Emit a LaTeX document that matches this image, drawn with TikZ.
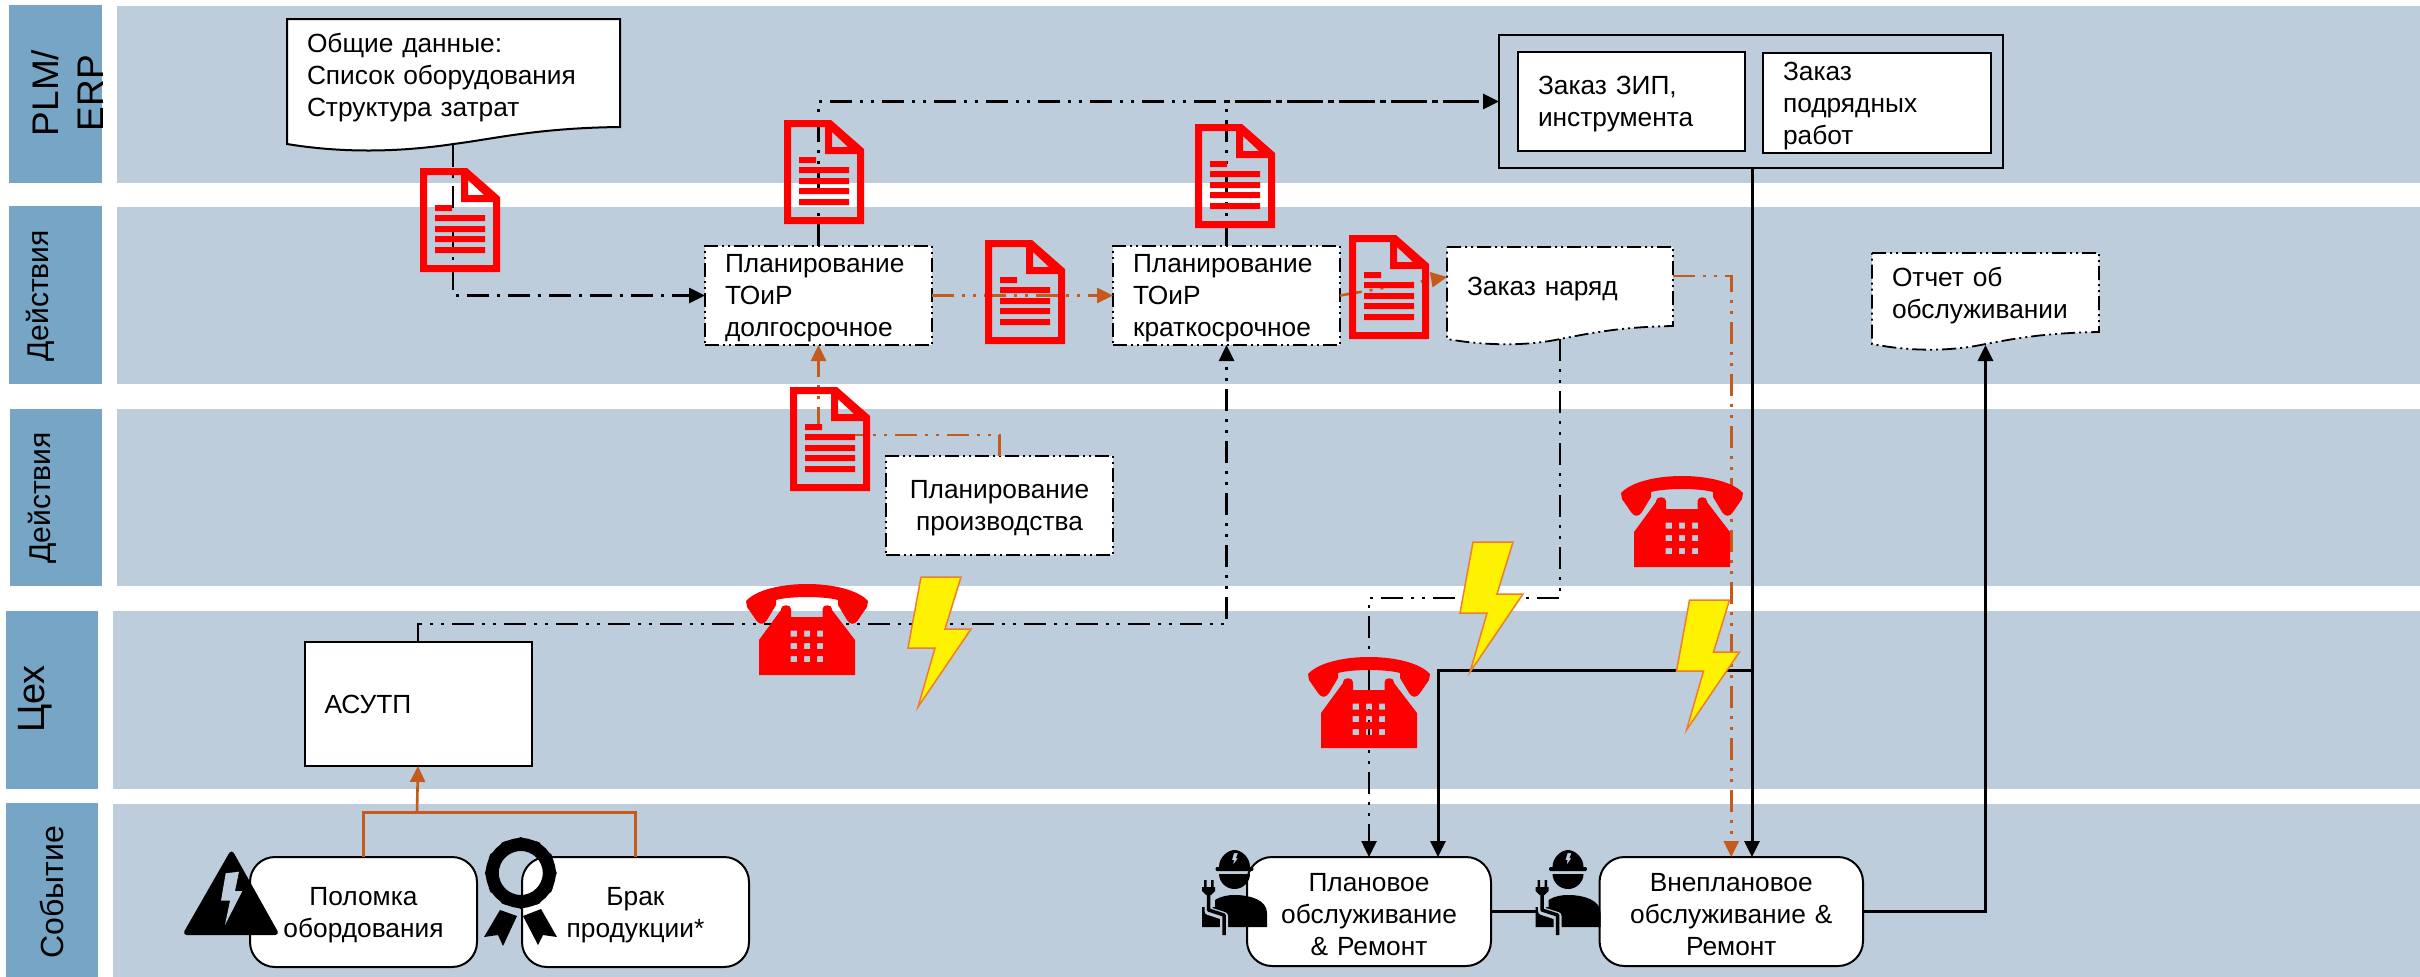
\documentclass[tikz,border=0pt]{standalone}
\usepackage{fontspec}
\setmainfont{Liberation Sans}
\usetikzlibrary{arrows.meta,calc}
\definecolor{bandc}{HTML}{BDCDDB}
\definecolor{labc}{HTML}{76A5C5}
\definecolor{orangec}{HTML}{C55A1D}
\definecolor{boltedge}{HTML}{ED7D31}
\tikzset{
  txt/.style={font=\fontsize{26.3}{32}\selectfont,execute at end node={\par\vspace{-6pt}}},
  basebox/.style={txt,inner sep=0pt,outer sep=0pt,draw=black,fill=white,line width=2pt},
  leftbox/.style n args={2}{basebox,minimum width=#1,minimum height=#2,text width=#1-40pt,align=left},
  midbox/.style n args={2}{basebox,minimum width=#1,minimum height=#2,text width=#1-10pt,align=center},
  dashbord/.style={line width=1.8pt,dash pattern=on 14pt off 4pt on 2pt off 4pt on 2pt off 4pt},
  roundb/.style={rounded corners=25pt},
  doctext/.style n args={2}{txt,inner sep=0pt,outer sep=0pt,minimum width=#1,minimum height=#2,text width=#1-40pt,align=left},
  docshape/.style={draw=black,fill=white,line width=2pt},
  ddlong/.style={dash pattern=on 22pt off 8pt on 3pt off 8pt on 3pt off 8pt},
  ddone/.style={dash pattern=on 22pt off 8pt on 3pt off 8pt},
  conn/.style={line width=2.6pt,-{Triangle[length=16pt,width=15pt]}},
  blk/.style={conn,black},
  org/.style={conn,orangec},
  lane/.style={fill=bandc},
  lab/.style={fill=labc},
  lanetext/.style={rotate=90,anchor=base,inner sep=0pt},
}
\newcommand{\DocOutline}[7][docshape]{%x0 x1 top yR yL yB
  \path[#1] (#2,#4) -- (#3,#4) -- (#3,#5)
    .. controls ({#2+.75*(#3-#2)},#5+1) and ({#2+.62*(#3-#2)},#6-5) .. ({#2+.5*(#3-#2)},#6)
    .. controls ({#2+.38*(#3-#2)},#6+6) and ({#2+.2*(#3-#2)},#7+3) .. (#2,#6) -- cycle;}
\newcommand{\RedDoc}[2]{\begin{scope}[shift={(#1,#2)}]
  \fill[red,even odd rule] (0,0) -- (47,0) -- (80,29) -- (80,104) -- (0,104) -- cycle
    (7,7) -- (41,7) -- (41,34) -- (73,34) -- (73,97) -- (7,97) -- cycle
    (48,12) -- (64,27) -- (48,27) -- cycle;
  \fill[red] (15,37) rectangle (32,43) (15,47) rectangle (65,53) (15,58) rectangle (65,64)
    (15,68) rectangle (65,74) (15,79) rectangle (65,85);
\end{scope}}
\newcommand{\RedPhone}[2]{\begin{scope}[shift={(#1,#2)}]
  \fill[red] (0,17) .. controls (10,6) and (35,0) .. (61,0) .. controls (87,0) and (112,6) .. (122,17)
    -- (121,23) -- (112,36) .. controls (109,41) and (104,41) .. (101,36) -- (92,21) -- (92,16)
    .. controls (85,14) and (72,13) .. (61,13) .. controls (50,13) and (37,14) .. (30,16)
    -- (30,21) -- (21,36) .. controls (18,41) and (13,41) .. (10,36) -- (1,23) -- cycle;
  \fill[red,even odd rule] (13,91) -- (13,56) -- (35,26) -- (35,25) .. controls (35,20) and (45,20) .. (45,25)
    -- (45,33) -- (76.5,33) -- (76.5,25) .. controls (76.5,20) and (86,20) .. (86,25) -- (86,26) -- (109,56) -- (109,91) -- cycle
    (44.5,46.5) rectangle (51,52.5) (58,46.5) rectangle (64,52.5) (71,46.5) rectangle (77,52.5)
    (44.5,59) rectangle (51,65) (58,59) rectangle (64,65) (71,59) rectangle (77,65)
    (44.5,72) rectangle (51,78) (58,72) rectangle (64,78) (71,72) rectangle (77,78);
\end{scope}}
\newcommand{\BoltMark}[2]{\begin{scope}[shift={(#1,#2)}]
  \filldraw[fill=yellow,draw=boltedge,line width=1.5pt,line join=miter]
    (13,0) -- (53,0) -- (37,52) -- (63,52) -- (10,130) -- (27,71) -- (0,71) -- cycle;
\end{scope}}
\newcommand{\WorkerIcon}[2]{\begin{scope}[shift={(#1,#2)}]
  % hat
  \fill[black,even odd rule] (24,22) .. controls (24,12) and (33,5) .. (39.5,5) .. controls (46,5) and (55,12) .. (55,22) -- cycle
    (39,8) -- (43,8) -- (41,13) -- (43,13) -- (38,20) -- (39,15) -- (37,15) -- cycle;
  \fill[black] (22,22) -- (57,22) .. controls (59,22) and (59,26) .. (57,26) -- (22,26) .. controls (20,26) and (20,22) .. (22,22) -- cycle;
  % head
  \fill[black] (24,29) -- (55,29) .. controls (55,37) and (48,44) .. (39.5,44) .. controls (31,44) and (24,37) .. (24,29) -- cycle;
  % body
  \fill[black] (7,82) -- (7,62) -- (20,62) -- (20,55) .. controls (26,51) and (33,50) .. (40,50) .. controls (55,50) and (72,55) .. (72,68) -- (72,82) -- cycle;
  % cord
  \draw[bandc,line width=8pt,line join=round] (13.5,52) -- (13.5,66) -- (29,71) -- (29,84);
  \draw[black,line width=3.5pt,line join=round] (13.5,50) -- (13.5,65) -- (29,70) -- (29,90);
  % plug
  \fill[black] (9,35) rectangle (11.5,42) (16,35) rectangle (18.5,42);
  \fill[black] (7,42) -- (20,42) -- (20,46) -- (16,50) -- (11,50) -- (7,46) -- cycle;
\end{scope}}
\begin{document}
\begin{tikzpicture}[x=1pt,y=-1pt]
\useasboundingbox (0,0) rectangle (2420,977);
\fill[white] (0,0) rectangle (2420,977);
% lanes
\fill[lab] (9,5) rectangle (102,183);
\fill[lane] (117,6) rectangle (2420,183);
\fill[lab] (9,206) rectangle (102,384);
\fill[lane] (117,207) rectangle (2420,384);
\fill[lab] (10,409) rectangle (102,586);
\fill[lane] (117,409) rectangle (2420,586);
\fill[lab] (6,611) rectangle (98,789);
\fill[lane] (113,611) rectangle (2420,789);
\fill[lab] (6,803) rectangle (98,977);
\fill[lane] (113,804) rectangle (2420,977);
% lane labels
\node[rotate=90,inner sep=0pt,align=center,font=\fontsize{37}{45}\selectfont] (lplm) at (68,93) {PLM/\\ERP};
\node[lanetext,font=\fontsize{30}{36}\selectfont] (ldo1) at (48.5,296) {Действия};
\node[lanetext,font=\fontsize{30}{36}\selectfont] (ldo2) at (50,498) {Действия};
\node[lanetext,font=\fontsize{38}{44}\selectfont] (lceh) at (44,699) {Цех};
\node[lanetext,font=\fontsize{32}{38}\selectfont] (lsob) at (63,892) {Событие};
% documents (outlines)
\DocOutline{287}{620}{19}{127}{144}{152}
\DocOutline[docshape,dashbord]{1447}{1673}{247}{326}{339}{344}
\DocOutline[docshape,dashbord]{1872}{2099}{253}{332}{344}{350}
% nodes
\node[doctext={333pt}{112pt}] (gen) at (453.5,75) {Общие данные:\\Список оборудования\\Структура затрат};
\node[doctext={226pt}{84pt}] (zak) at (1560,286) {Заказ наряд};
\node[doctext={227pt}{80pt}] (otch) at (1985.5,293) {Отчет об\\обслуживании};
\coordinate (genout) at (453,145);
\coordinate (zakout) at (1560,339);
\coordinate (otchin) at (1985.5,345);
\node[leftbox={227pt}{99pt},dashbord] (plan1) at (818.5,295.5) {Планирование\\ТОиР\\долгосрочное};
\node[leftbox={227pt}{99pt},dashbord] (plan2) at (1226.5,295.5) {Планирование\\ТОиР\\краткосрочное};
\node[midbox={227pt}{99pt},dashbord] (prod) at (999.5,505.5) {Планирование\\производства};
\node[draw=black,line width=2.5pt,inner sep=0pt,outer sep=0pt,minimum width=504pt,minimum height=133pt] (outer) at (1751,101.5) {};
\node[leftbox={227pt}{99pt}] (zip) at (1631.5,101.5) {Заказ ЗИП,\\инструмента};
\node[leftbox={228pt}{100pt}] (podr) at (1877,103) {Заказ\\подрядных\\работ};
\node[leftbox={227pt}{124pt}] (asu) at (418,704) {АСУТП};
\node[midbox={227pt}{110pt},roundb] (pol) at (363.5,912) {Поломка\\обордования};
\node[midbox={227pt}{110pt},roundb] (brak) at (635.5,912) {Брак\\продукции*};
\node[midbox={244pt}{109pt},roundb] (pm1) at (1369,911.5) {Плановое\\обслуживание\\\& Ремонт};
\node[midbox={263.5pt}{109pt},roundb] (vn) at (1731.25,911.5) {Внеплановое\\обслуживание \&\\Ремонт};
% connectors
\coordinate (ev) at (417,812);
\draw[blk,ddone] (genout) |- (plan1.west);
\draw[blk,ddlong] (plan1.north) |- (outer.west);
\draw[black,line width=2.6pt,ddlong] (plan2.north) |- (outer.west);
\draw[org,ddlong] (plan1.east) -- (plan2.west);
\draw[org,ddlong] (plan2.east) -- ([yshift=9pt]zak.west);
\draw[org,ddlong] (prod.north) -- ++(0,-21) -| (plan1.south);
\draw[orangec,line width=3pt] (pol.north) |- (ev);
\draw[orangec,line width=3pt] (brak.north) |- (ev);
\draw[org] (ev) -- (asu.south);
\draw[blk,ddlong] (asu.north) -- ++(0,-18) -| (plan2.south);
\draw[blk,ddlong] (zakout) -- ++(0,259) -| (pm1.north);
\draw[org,ddlong] ([yshift=10pt]zak.east) -| (vn.north);
\coordinate (j) at (1752,670);
\draw[blk,line width=3pt] (j |- outer.south) -- (j |- vn.north);
\draw[blk,line width=3pt] (j) -| ([xshift=69pt]pm1.north);
\draw[black,line width=3pt] (pm1.east) -- (vn.west);
\draw[blk,line width=3pt] (vn.east) -| (otchin);
% icons
\RedDoc{420}{168}
\RedDoc{784}{120}
\RedDoc{1195}{124}
\RedDoc{985}{240}
\RedDoc{1349}{235}
\RedDoc{790}{387}
\RedPhone{746}{584}
\RedPhone{1621}{476}
\RedPhone{1308}{657}
\BoltMark{908}{577}
\BoltMark{1460}{542}
\BoltMark{1676.5}{600}
% warning triangle
\filldraw[black,line width=5pt,line join=round] (231.5,854) -- (275.5,932.5) -- (186.5,932.5) -- cycle;
\fill[bandc] (225.7,873.3) -- (239,871.7) -- (235,891) -- (242.3,891) -- (225,925) -- (230,900.7) -- (221,900.7) -- cycle;
% rosette
\draw[black,line width=13pt] (520.8,873) circle (28.5);
\foreach \a in {0,30,...,330} \fill[black] (520.8,873) ++(\a:30.5) circle (5.5);
\fill[black] (500,910) -- (517,916) -- (503,946) -- (498,935) -- (484,937) -- cycle;
\fill[black] (523,916) -- (541,909) -- (557,937) -- (543,935) -- (538,945) -- cycle;
% workers
\WorkerIcon{1195}{845}
\WorkerIcon{1528.5}{845}
\end{tikzpicture}
\end{document}
